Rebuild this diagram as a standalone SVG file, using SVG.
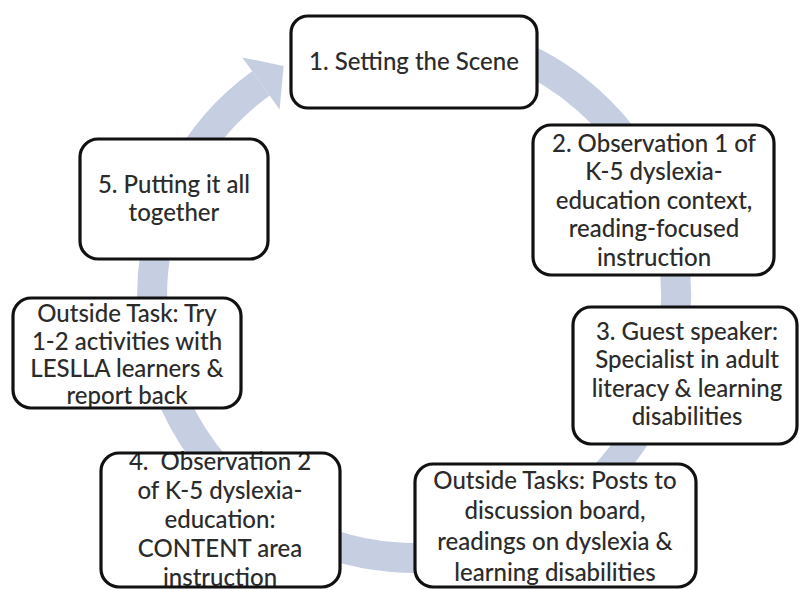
<svg xmlns="http://www.w3.org/2000/svg" width="800" height="590" viewBox="0 0 800 590">
  <style>
    .box { fill: #ffffff; stroke: none; }
    .frame { fill: none; stroke: #111111; stroke-width: 3.2; }
    .label { font-family: Lato, "Liberation Sans", sans-serif; font-size: 24px; font-weight: 500; fill: #2b2b2b; text-anchor: middle; white-space: pre; }
    .band { fill: none; stroke: #c6cee2; stroke-width: 30; }
    .head { fill: #c6cee2; }
  </style>

  <rect width="800" height="590" fill="#ffffff"/>

  <!-- circular cycle arrow -->
  <g id="connectors">
    <path class="band" d="M 346.2 42.9 A 262 262 0 1 1 260.9 83.4"/>
    <polygon class="head" points="242.2,57.4 283.6,66 279.6,109.4"/>
  </g>

  <g id="node-1">
    <rect class="box" x="291" y="16" width="246" height="92" rx="17"/>
    <text class="label" x="414" y="70">1. Setting the Scene</text>
    <rect class="frame" x="291" y="16" width="246" height="92" rx="17"/>
  </g>

  <g id="node-2">
    <rect class="box" x="533" y="125" width="241" height="150" rx="18"/>
    <text class="label" x="654" y="152">2. Observation 1 of</text>
    <text class="label" x="654" y="180">K-5 dyslexia-</text>
    <text class="label" x="654" y="209">education context,</text>
    <text class="label" x="654" y="237">reading-focused</text>
    <text class="label" x="654" y="266">instruction</text>
    <rect class="frame" x="533" y="125" width="241" height="150" rx="18"/>
  </g>

  <g id="node-3">
    <rect class="box" x="573" y="307" width="224" height="137" rx="18"/>
    <text class="label" x="687" y="340">3. Guest speaker:</text>
    <text class="label" x="687" y="368">Specialist in adult</text>
    <text class="label" x="687" y="397">literacy &amp; learning</text>
    <text class="label" x="687" y="425">disabilities</text>
    <rect class="frame" x="573" y="307" width="224" height="137" rx="18"/>
  </g>

  <g id="node-outside-tasks">
    <rect class="box" x="415" y="464" width="281" height="123" rx="18"/>
    <text class="label" x="555" y="489">Outside Tasks: Posts to</text>
    <text class="label" x="555" y="519">discussion board,</text>
    <text class="label" x="555" y="550">readings on dyslexia &amp;</text>
    <text class="label" x="555" y="581">learning disabilities</text>
    <rect class="frame" x="415" y="464" width="281" height="123" rx="18"/>
  </g>

  <g id="node-4">
    <rect class="box" x="101" y="453" width="239" height="134" rx="18"/>
    <text class="label" x="220" y="470">4.  Observation 2</text>
    <text class="label" x="220" y="499">of K-5 dyslexia-</text>
    <text class="label" x="220" y="528">education:</text>
    <text class="label" x="220" y="557">CONTENT area</text>
    <text class="label" x="220" y="586">instruction</text>
    <rect class="frame" x="101" y="453" width="239" height="134" rx="18"/>
  </g>

  <g id="node-outside-task">
    <rect class="box" x="13" y="298" width="228" height="110" rx="18"/>
    <text class="label" x="127" y="322">Outside Task: Try</text>
    <text class="label" x="127" y="350">1-2 activities with</text>
    <text class="label" x="127" y="377">LESLLA learners &amp;</text>
    <text class="label" x="127" y="404">report back</text>
    <rect class="frame" x="13" y="298" width="228" height="110" rx="18"/>
  </g>

  <g id="node-5">
    <rect class="box" x="80" y="139" width="188" height="120" rx="18"/>
    <text class="label" x="174" y="193">5. Putting it all</text>
    <text class="label" x="174" y="221">together</text>
    <rect class="frame" x="80" y="139" width="188" height="120" rx="18"/>
  </g>
</svg>
